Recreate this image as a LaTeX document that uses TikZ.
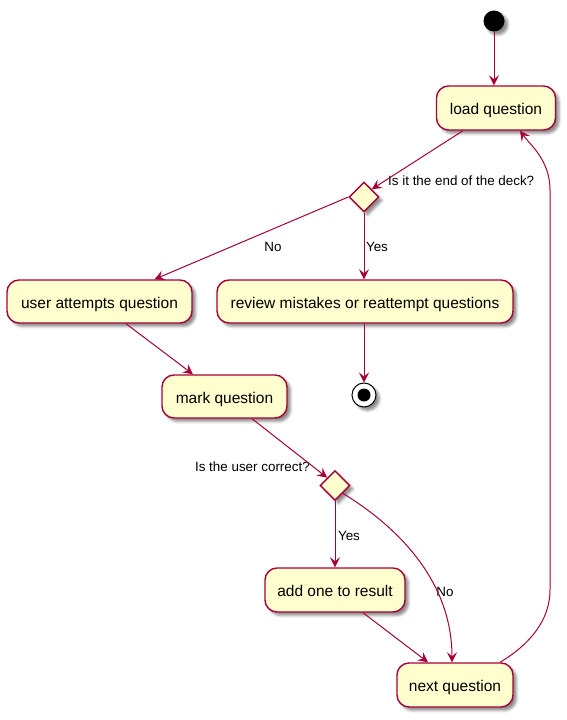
\documentclass[tikz,border=0pt]{standalone}
\usepackage{fontspec}
\setmainfont{Liberation Sans}
\usetikzlibrary{arrows.meta,shapes.geometric,shadows.blur}
\definecolor{umlred}{HTML}{A80036}
\definecolor{umlfill}{HTML}{FEFECE}
\tikzset{
  shad/.style={blur shadow={shadow xshift=3.5pt, shadow yshift=-3.5pt, shadow blur radius=2.5pt, shadow opacity=45}},
  actbox/.style={draw=umlred, fill=umlfill, line width=1.4pt, rounded corners=12pt, inner sep=0pt, text height=15pt, text depth=2pt, font=\fontsize{15.5}{18}\selectfont, shad},
  decis/.style={draw=umlred, fill=umlfill, line width=1.4pt, diamond, minimum width=30pt, minimum height=30pt, inner sep=0pt, shad},
  conn/.style={draw=umlred, line width=1pt, -{Stealth[length=10pt,width=10pt,inset=4pt]}},
  lbl/.style={font=\fontsize{13.4}{16}\selectfont, inner sep=0pt},
}
\begin{document}
\begin{tikzpicture}[x=1pt,y=-1pt]
\useasboundingbox (0,0) rectangle (567,720);
% nodes
\node[circle, fill=black, minimum size=21pt, inner sep=0pt, shad] (start) at (494,21) {};
\node[actbox, minimum width=119pt, minimum height=44pt] (load) at (496,108) {load question};
\node[decis] (d1) at (364,197) {};
\node[actbox, minimum width=185pt, minimum height=43pt] (user) at (99.5,301.5) {user attempts question};
\node[actbox, minimum width=296pt, minimum height=43pt] (review) at (365,301.5) {review mistakes or reattempt questions};
\node[circle, draw=black, line width=1pt, fill=white, minimum size=24pt, inner sep=0pt, shad] (end) at (364,395) {};
\node[circle, fill=black, minimum size=13pt, inner sep=0pt] (endin) at (end) {};
\node[actbox, minimum width=125pt, minimum height=43pt] (mark) at (224.5,396.5) {mark question};
\node[decis] (dtwo) at (335,485.5) {};
\node[actbox, minimum width=140pt, minimum height=44pt] (addone) at (335,590) {add one to result};
\node[actbox, minimum width=116pt, minimum height=44pt] (nextq) at (455,685) {next question};
% labels
\node[lbl, anchor=west] (l1) at (388,181) {Is it the end of the deck?};
\node[lbl] (lno1) at (273,247) {No};
\node[lbl] (lyes1) at (377,247) {Yes};
\node[lbl, anchor=east] (l2) at (310,467) {Is the user correct?};
\node[lbl] (lyes2) at (349,536) {Yes};
\node[lbl] (lno2) at (445,592) {No};
% connectors
\draw[conn] (start.south) -- (start.south |- load.north);
\draw[conn] ([xshift=-33pt]load.south) -- (d1.north east);
\draw[conn] (d1.west) -- ([xshift=55pt]user.north);
\draw[conn] (d1.south) -- (d1.south |- review.north);
\draw[conn] (review.south -| end) -- (end.north);
\draw[conn] ([xshift=26.5pt]user.south) -- ([xshift=-31.5pt]mark.north);
\draw[conn] ([xshift=27.5pt]mark.south) -- (dtwo.north west);
\draw[conn] (dtwo.south) -- (dtwo.south |- addone.north);
\draw[conn] (dtwo.south east) .. controls +(52.5,32) and +(0,-83) .. ([xshift=-3pt]nextq.north);
\draw[conn] ([xshift=28pt]addone.south) -- ([xshift=-27pt]nextq.north);
\draw[conn] ([xshift=45pt]nextq.north) .. controls +(30,-18) and +(0,30) .. (550,590) -- (550,190) .. controls +(0,-30) and +(10,14) .. ([xshift=24pt]load.south);
\end{tikzpicture}
\end{document}
